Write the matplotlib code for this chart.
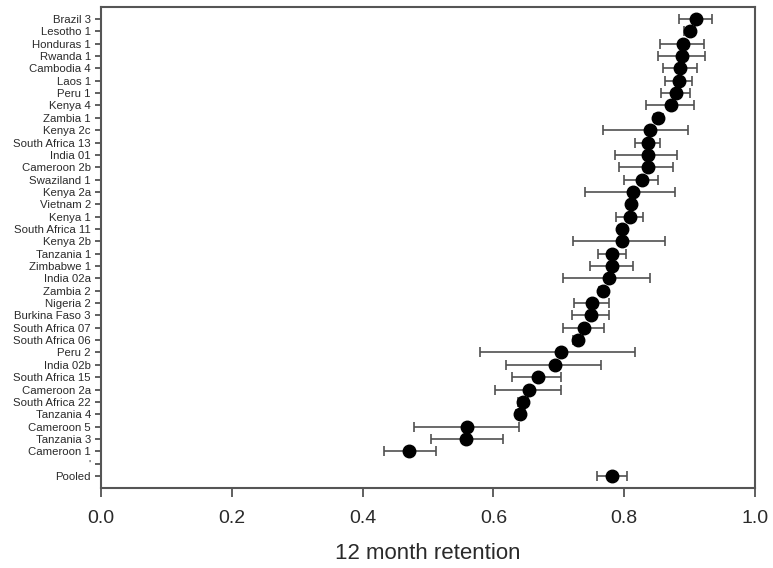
import matplotlib
matplotlib.use("Agg")
import matplotlib.pyplot as plt
import numpy as np

labels = ["Brazil 3", "Lesotho 1", "Honduras 1", "Rwanda 1", "Cambodia 4", "Laos 1",
          "Peru 1", "Kenya 4", "Zambia 1", "Kenya 2c", "South Africa 13", "India 01",
          "Cameroon 2b", "Swaziland 1", "Kenya 2a", "Vietnam 2", "Kenya 1",
          "South Africa 11", "Kenya 2b", "Tanzania 1", "Zimbabwe 1", "India 02a",
          "Zambia 2", "Nigeria 2", "Burkina Faso 3", "South Africa 07", "South Africa 06",
          "Peru 2", "India 02b", "South Africa 15", "Cameroon 2a", "South Africa 22",
          "Tanzania 4", "Cameroon 5", "Tanzania 3", "Cameroon 1", "'", "Pooled"]

retention = [0.910, 0.900, 0.890, 0.889, 0.885, 0.884, 0.879, 0.871, 0.852, 0.839,
             0.837, 0.837, 0.836, 0.827, 0.814, 0.811, 0.809, 0.797, 0.797, 0.782,
             0.781, 0.777, 0.767, 0.751, 0.749, 0.739, 0.729, 0.704, 0.694, 0.668,
             0.654, 0.645, 0.641, 0.559, 0.558, 0.471, np.nan, 0.782]
lower = [0.884, 0.892, 0.855, 0.852, 0.859, 0.862, 0.857, 0.833, 0.845, 0.767,
         0.817, 0.786, 0.792, 0.800, 0.740, 0.806, 0.787, 0.792, 0.721, 0.760,
         0.748, 0.707, 0.762, 0.723, 0.720, 0.706, 0.722, 0.580, 0.619, 0.629,
         0.602, 0.637, 0.634, 0.478, 0.505, 0.432, np.nan, 0.759]
upper = [0.934, 0.908, 0.922, 0.923, 0.911, 0.903, 0.900, 0.906, 0.860, 0.898,
         0.855, 0.880, 0.875, 0.852, 0.878, 0.816, 0.829, 0.802, 0.863, 0.802,
         0.814, 0.839, 0.772, 0.777, 0.777, 0.769, 0.737, 0.817, 0.765, 0.704,
         0.704, 0.653, 0.649, 0.639, 0.614, 0.512, np.nan, 0.805]
xticks = [0.0, 0.2, 0.4, 0.6, 0.8, 1.0]

plt.rcParams['font.family'] = ['Liberation Sans', 'DejaVu Sans']

fig = plt.figure(figsize=(7.73, 5.68), dpi=100)
ax = fig.add_axes([101/773, 1 - 488/568, (755-101)/773, (488-7)/568])

y = np.arange(len(labels))
r = np.array(retention)
lo = np.array(lower)
hi = np.array(upper)
ax.errorbar(r, y, xerr=[r - lo, hi - r], fmt='none', ecolor='#505050',
            elinewidth=1.2, capsize=3.8, capthick=1.2, zorder=2)
ax.plot(r, y, 'o', color='black', markersize=9, zorder=3)

ax.set_xlim(0, 1.0)
ax.set_ylim(len(labels) - 1 + 0.97, -0.97)
ax.set_yticks(y)
ax.set_yticklabels(labels, fontsize=8.2, color='#2a2a2a')
ax.set_xticks(xticks)
ax.set_xticklabels([f"{v:.1f}" for v in xticks], fontsize=14, color='#2a2a2a')
ax.set_xlabel("12 month retention", fontsize=16, color='#2a2a2a', labelpad=12)

for s in ax.spines.values():
    s.set_color('#555555')
    s.set_linewidth(1.5)
ax.tick_params(axis='y', direction='out', length=4.3, width=1.2, color='#444444', pad=3)
ax.tick_params(axis='x', direction='out', length=6.5, width=1.2, color='#444444', pad=9)

fig.savefig("out.png", dpi=100)
